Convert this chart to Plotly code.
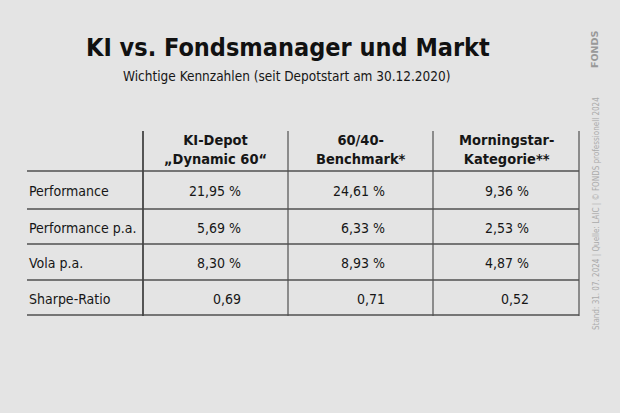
import plotly.graph_objects as go

# ---- data ----
title = "KI vs. Fondsmanager und Markt"
subtitle = "Wichtige Kennzahlen (seit Depotstart am 30.12.2020)"
header_top = ["KI-Depot", "60/40-", "Morningstar-"]
header_bottom = ["„Dynamic 60“", "Benchmark*", "Kategorie**"]
row_labels = ["Performance", "Performance p.a.", "Vola p.a.", "Sharpe-Ratio"]
ki_depot = [21.95, 5.69, 8.30, 0.69]
benchmark = [24.61, 6.33, 8.93, 0.71]
morningstar = [9.36, 2.53, 4.87, 0.52]
units = ["%", "%", "%", ""]
source = "Stand: 31. 07. 2024 | Quelle: LAIC | © FONDS professionell 2024"
logo = "FONDS"

series = [ki_depot, benchmark, morningstar]

# ---- layout constants ----
W, H = 620, 413
BG = "#e4e4e4"
FONT = "DejaVu Sans Condensed, Liberation Sans Narrow, Arial Narrow, sans-serif"
TXT = "#161616"
LINE = "#505050"
x_left, x_right = 27, 579
col_edges = [143, 288, 433, 579]
val_right = [243, 387, 531]
h_lines = [171, 209, 244, 280, 315]
v_top, v_bot = 131, 316
hdr_y = 149

fig = go.Figure()
fig.add_trace(go.Scatter(x=[0, W], y=[0, H], mode="markers",
                         marker=dict(opacity=0), hoverinfo="skip", showlegend=False))

shapes = []
for y in h_lines:
    shapes.append(dict(type="line", x0=x_left, x1=x_right, y0=y, y1=y,
                       xref="x", yref="y", line=dict(color=LINE, width=1.4)))
for i, x in enumerate(col_edges):
    shapes.append(dict(type="line", x0=x, x1=x, y0=v_top, y1=v_bot,
                       xref="x", yref="y",
                       line=dict(color="#444444" if i == 0 else LINE, width=1.8 if i == 0 else 1.2)))

ann = []
ann.append(dict(x=288, y=47, text="<b>" + title + "</b>", showarrow=False,
                xref="x", yref="y", xanchor="center", yanchor="middle",
                font=dict(family=FONT, size=25, color="#111111")))
ann.append(dict(x=287, y=76, text=subtitle, showarrow=False,
                xref="x", yref="y", xanchor="center", yanchor="middle",
                font=dict(family=FONT, size=13.5, color=TXT)))

for j in range(3):
    cx = (col_edges[j] + col_edges[j + 1]) / 2
    ann.append(dict(x=cx, y=hdr_y,
                    text="<b>" + header_top[j] + "<br>" + header_bottom[j] + "</b>",
                    showarrow=False, align="center",
                    xref="x", yref="y", xanchor="center", yanchor="middle",
                    font=dict(family=FONT, size=14.5, color=TXT)))

for i, lab in enumerate(row_labels):
    yc = (h_lines[i] + h_lines[i + 1]) / 2 + 1
    ann.append(dict(x=x_left, y=yc, text=lab, showarrow=False,
                    xref="x", yref="y", xanchor="left", yanchor="middle",
                    font=dict(family=FONT, size=14, color=TXT)))
    for j in range(3):
        v = series[j][i]
        s = f"{v:.2f}".replace(".", ",")
        if units[i]:
            s += " " + units[i]
        ann.append(dict(x=val_right[j], y=yc, text=s, showarrow=False,
                        xref="x", yref="y", xanchor="right", yanchor="middle",
                        font=dict(family=FONT, size=14, color=TXT)))

ann.append(dict(x=596, y=214, text=source, showarrow=False, textangle=-90,
                xref="x", yref="y", xanchor="center", yanchor="middle",
                font=dict(family=FONT, size=8, color="#ababab")))
ann.append(dict(x=594, y=50, text="<b>" + logo + "</b>", showarrow=False, textangle=-90,
                xref="x", yref="y", xanchor="center", yanchor="middle",
                font=dict(family="DejaVu Sans, sans-serif", size=9.5, color="#999999")))

fig.update_layout(
    width=W, height=H, margin=dict(l=0, r=0, t=0, b=0),
    paper_bgcolor=BG, plot_bgcolor=BG,
    xaxis=dict(range=[0, W], visible=False, fixedrange=True),
    yaxis=dict(range=[H, 0], visible=False, fixedrange=True),
    shapes=shapes, annotations=ann, showlegend=False,
)

fig.write_html("out.html", config=dict(displayModeBar=False),
               post_script="document.body.style.margin='0';document.body.style.background='" + BG + "';")
